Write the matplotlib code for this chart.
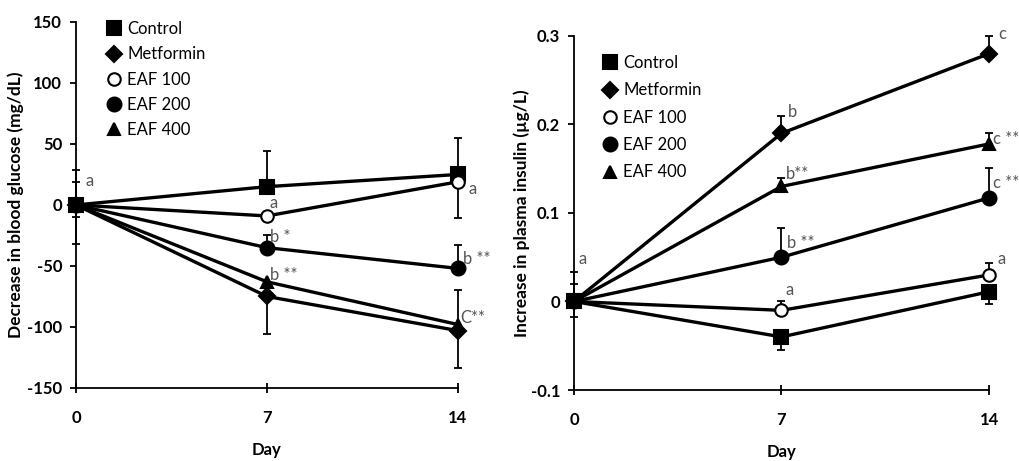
import matplotlib.pyplot as plt
from matplotlib.lines import Line2D

plt.rcParams['font.family'] = ['Lato', 'DejaVu Sans']

days = [0, 7, 14]
groups = ["Control", "Metformin", "EAF 100", "EAF 200", "EAF 400"]
markers = ["s", "D", "o", "o", "^"]
faces = ["black", "black", "white", "black", "black"]
sizes = [10, 8, 9, 10, 9]

# blood glucose (left)
glu = {
    "Control":   [0, 15, 25],
    "Metformin": [0, -75, -103],
    "EAF 100":   [0, -9, 19],
    "EAF 200":   [0, -35, -52],
    "EAF 400":   [0, -63, -98],
}
glu_lo = {
    "Control":   [32, 0, 0],
    "Metformin": [10, 31, 31],
    "EAF 100":   [0, 0, 30],
    "EAF 200":   [0, 0, 0],
    "EAF 400":   [0, 0, 0],
}
glu_hi = {
    "Control":   [29, 29, 30],
    "Metformin": [19, 0, 0],
    "EAF 100":   [0, 0, 0],
    "EAF 200":   [0, 10, 19],
    "EAF 400":   [0, 0, 28],
}
glu_notes = [(0.35, 20, "a"), (7.1, 2, "a"), (14.4, 13, "a"),
             (7.1, -26, "b *"), (7.1, -57, "b **"),
             (14.2, -44, "b **"), (14.1, -93, "C**")]

# plasma insulin (right)
ins = {
    "Control":   [0, -0.04, 0.011],
    "Metformin": [0, 0.19, 0.28],
    "EAF 100":   [0, -0.01, 0.03],
    "EAF 200":   [0, 0.05, 0.117],
    "EAF 400":   [0, 0.13, 0.178],
}
ins_lo = {
    "Control":   [0.017, 0.015, 0.014],
    "Metformin": [0, 0, 0],
    "EAF 100":   [0, 0, 0],
    "EAF 200":   [0, 0, 0],
    "EAF 400":   [0, 0, 0],
}
ins_hi = {
    "Control":   [0.033, 0, 0],
    "Metformin": [0.02, 0.02, 0.02],
    "EAF 100":   [0, 0.01, 0.013],
    "EAF 200":   [0, 0.033, 0.034],
    "EAF 400":   [0, 0.01, 0.012],
}
ins_notes = [(0.15, 0.048, "a"), (7.15, 0.013, "a"), (14.3, 0.048, "a"),
             (7.2, 0.214, "b"), (7.15, 0.144, "b**"), (7.2, 0.066, "b **"),
             (14.3, 0.302, "c"), (14.15, 0.184, "c **"), (14.15, 0.134, "c **")]


def draw(ax, vals, lo, hi, notes, ylim, yticks, ylabel, ytickfmt):
    for g, m, fc, ms in zip(groups, markers, faces, sizes):
        ax.errorbar(days, vals[g], yerr=[lo[g], hi[g]], fmt='none',
                    ecolor='black', elinewidth=1.3, capsize=3, capthick=1.3,
                    clip_on=False, zorder=2)
        ax.plot(days, vals[g], color='black', lw=2.4, marker=m, ms=ms,
                mfc=fc, mec='black', mew=1.5, clip_on=False, zorder=3)
    for x, y, t in notes:
        ax.text(x, y, t, fontsize=12, color='#555555', ha='left', va='center')
    ax.set_xlim(0, 14)
    ax.set_ylim(*ylim)
    ax.set_xticks(days)
    ax.set_yticks(yticks)
    ax.set_yticklabels([ytickfmt(v) for v in yticks])
    ax.spines['top'].set_visible(False)
    ax.spines['right'].set_visible(False)
    ax.spines['left'].set_linewidth(1.3)
    ax.spines['bottom'].set_linewidth(1.3)
    ax.tick_params(axis='y', direction='out', length=4, width=1.3, pad=6,
                   labelsize=12)
    ax.tick_params(axis='x', direction='inout', length=7, width=1.3, pad=12,
                   labelsize=12)
    for lab in ax.get_xticklabels() + ax.get_yticklabels():
        lab.set_fontweight('bold')
    ax.set_xlabel("Day", fontsize=12, fontweight='bold', labelpad=12)
    ax.set_ylabel(ylabel, fontsize=12.5, fontweight='bold')
    handles = [Line2D([], [], ls='none', marker=m, ms=ms, mfc=fc, mec='black',
                      mew=1.5, color='black')
               for m, fc, ms in zip(markers, faces, sizes)]
    return handles


fig = plt.figure(figsize=(10.2, 4.61), dpi=100)
ax1 = fig.add_axes([0.0745, 0.1584, 0.3745, 0.794])
ax2 = fig.add_axes([0.5627, 0.154, 0.4069, 0.768])

h1 = draw(ax1, glu, glu_lo, glu_hi, glu_notes, (-150, 150),
          [-150, -100, -50, 0, 50, 100, 150],
          "Decrease in blood glucose (mg/dL)", lambda v: "%d" % v)
h2 = draw(ax2, ins, ins_lo, ins_hi, ins_notes, (-0.1, 0.3),
          [-0.1, 0, 0.1, 0.2, 0.3],
          "Increase in plasma insulin (µg/L)",
          lambda v: "0" if v == 0 else ("%.1f" % v))

ax1.yaxis.set_label_coords(-0.135, 0.5)
ax2.yaxis.set_label_coords(-0.105, 0.5)

ax1.legend(h1, groups, loc='upper left', bbox_to_anchor=(0.065, 1.02),
           frameon=False, fontsize=12, handlelength=0.8, handletextpad=0.4,
           labelspacing=0.55, borderaxespad=0)
ax2.legend(h2, groups, loc='upper left', bbox_to_anchor=(0.055, 0.965),
           frameon=False, fontsize=12, handlelength=0.8, handletextpad=0.4,
           labelspacing=0.68, borderaxespad=0)

fig.savefig("out.png", dpi=100)
